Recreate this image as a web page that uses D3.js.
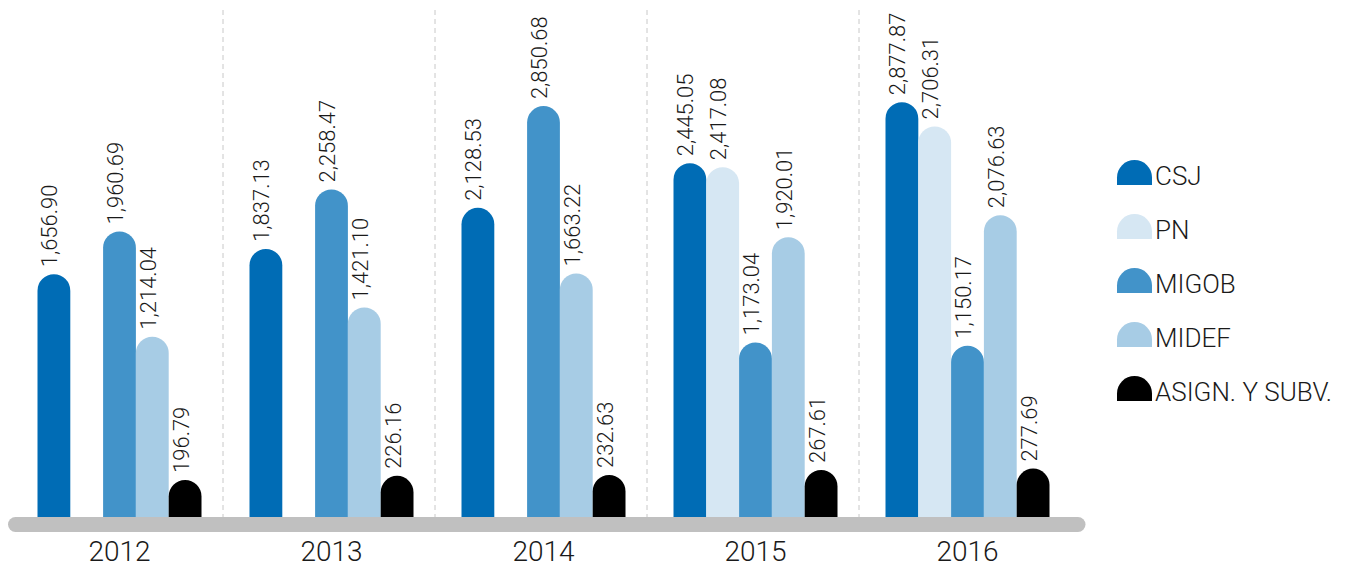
<!DOCTYPE html>
<html lang="es">
<head>
  <meta charset="UTF-8">
  <title>Presupuesto por institución 2012-2016</title>
  <script src="https://d3js.org/d3.v7.min.js"></script>
  <style>
    body {
      margin: 0;
      background: #fff;
      overflow: hidden;
    }
    text {
      font-family: Roboto, "Noto Sans", sans-serif;
      font-weight: 300;
      fill: #1a1a1a;
    }
  </style>
</head>
<body>
  <svg id="chart" width="1348" height="567"></svg>

  <script>
    // datos
    const years = ["2012", "2013", "2014", "2015", "2016"];
    const series = ["CSJ", "PN", "MIGOB", "MIDEF", "ASIGN. Y SUBV."];
    const csj = [1656.90, 1837.13, 2128.53, 2445.05, 2877.87];
    const pn = [null, null, null, 2417.08, 2706.31];
    const migob = [1960.69, 2258.47, 2850.68, 1173.04, 1150.17];
    const midef = [1214.04, 1421.10, 1663.22, 1920.01, 2076.63];
    const asign = [196.79, 226.16, 232.63, 267.61, 277.69];
    const colors = ["#006cb5", "#d6e7f3", "#4293c9", "#a7cce5", "#000000"];

    const values = [csj, pn, migob, midef, asign];

    const svg = d3.select("#chart");
    const fmt = d3.format(",.2f");

    const baseY = 517;

    // escalas
    const x0 = d3.scaleBand().domain(years).range([11, 1071]);
    const x1 = d3.scaleBand().domain(series).range([26.5, 190.5]);
    const y = d3.scaleLinear().domain([0, 3000]).range([507.7, 85.06]);
    const color = d3.scaleOrdinal().domain(series).range(colors);

    // líneas separadoras
    svg.selectAll(".sep")
      .data(years.slice(1))
      .join("line")
      .attr("class", "sep")
      .attr("x1", d => x0(d))
      .attr("x2", d => x0(d))
      .attr("y1", 10)
      .attr("y2", baseY)
      .attr("stroke", "#c8c8c8")
      .attr("stroke-width", 1)
      .attr("stroke-dasharray", "5,4");

    // barras
    const rows = [];
    years.forEach((yr, i) => {
      series.forEach((s, j) => {
        if (values[j][i] != null) rows.push({ year: yr, key: s, value: values[j][i] });
      });
    });

    function barPath(d) {
      const x = x0(d.year) + x1(d.key);
      const w = x1.bandwidth();
      const r = w / 2;
      const top = y(d.value);
      return `M${x},${baseY + 4}V${top + r}A${r},${r} 0 0 1 ${x + w},${top + r}V${baseY + 4}Z`;
    }

    svg.selectAll(".bar")
      .data(rows)
      .join("path")
      .attr("class", "bar")
      .attr("d", barPath)
      .attr("fill", d => color(d.key));

    // etiquetas de valores
    svg.selectAll(".val")
      .data(rows)
      .join("text")
      .attr("class", "val")
      .attr("transform", d => {
        const cx = x0(d.year) + x1(d.key) + x1.bandwidth() / 2 + 3.5;
        return `translate(${cx},${y(d.value) - 7}) rotate(-90)`;
      })
      .attr("font-size", 22)
      .text(d => fmt(d.value));

    // eje
    svg.append("line")
      .attr("x1", 15.5)
      .attr("x2", 1078)
      .attr("y1", 524.5)
      .attr("y2", 524.5)
      .attr("stroke", "#c0c0c0")
      .attr("stroke-width", 15)
      .attr("stroke-linecap", "round");

    svg.selectAll(".year")
      .data(years)
      .join("text")
      .attr("class", "year")
      .attr("x", d => x0(d) + 26.5 + 82)
      .attr("y", 561)
      .attr("text-anchor", "middle")
      .attr("font-size", 28)
      .text(d => d);

    // leyenda
    const ly = d3.scalePoint().domain(series).range([185, 401]);
    const legend = svg.selectAll(".legend")
      .data(series)
      .join("g")
      .attr("class", "legend")
      .attr("transform", d => `translate(1117,${ly(d)})`);

    legend.append("path")
      .attr("d", "M0,0V-7.5A17.5,17.5 0 0 1 35,-7.5V0Z")
      .attr("fill", d => color(d));

    legend.append("text")
      .attr("x", 38)
      .attr("y", 0)
      .attr("font-size", 26)
      .text(d => d);
  </script>
</body>
</html>
